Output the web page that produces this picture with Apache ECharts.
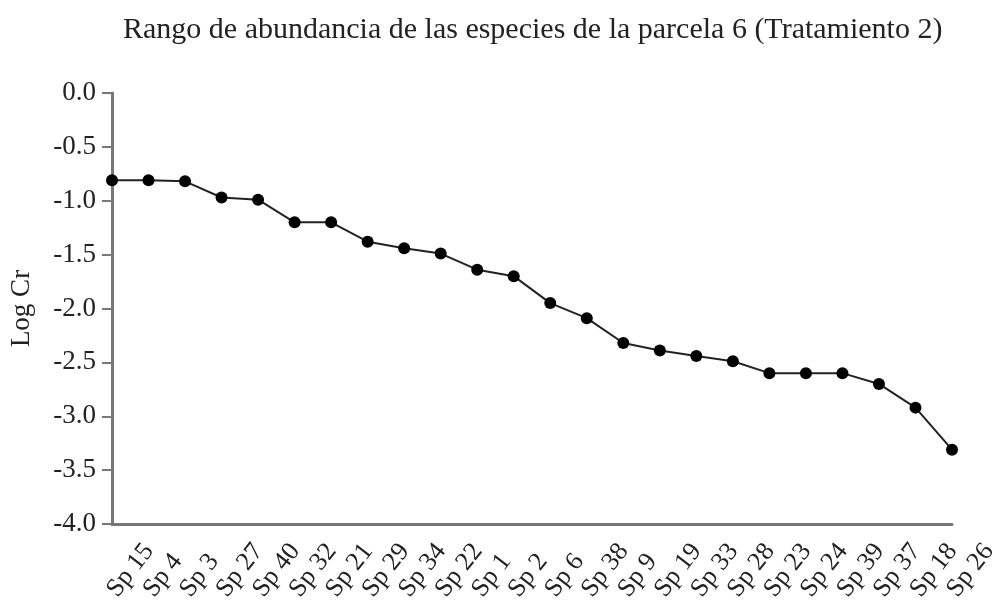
<!DOCTYPE html>
<html>
<head>
<meta charset="utf-8">
<script src="https://cdn.jsdelivr.net/npm/echarts@6/dist/echarts.min.js"></script>
<style>
  html, body { margin: 0; padding: 0; background: #fff; }
  #chart { width: 1003px; height: 606px; }
</style>
</head>
<body>
<div id="chart"></div>
<script>
// especies ordenadas por abundancia
const species = ['Sp 15', 'Sp 4', 'Sp 3', 'Sp 27', 'Sp 40', 'Sp 32', 'Sp 21', 'Sp 29', 'Sp 34', 'Sp 22', 'Sp 1', 'Sp 2',
  'Sp 6', 'Sp 38', 'Sp 9', 'Sp 19', 'Sp 33', 'Sp 28', 'Sp 23', 'Sp 24', 'Sp 39', 'Sp 37', 'Sp 18', 'Sp 26'];
const logCr = [-0.81, -0.81, -0.82, -0.97, -0.99, -1.20, -1.20, -1.38, -1.44, -1.49, -1.64, -1.70,
  -1.95, -2.09, -2.32, -2.39, -2.44, -2.49, -2.60, -2.60, -2.60, -2.70, -2.92, -3.31];
const yMin = -4.0;
const yMax = 0.0;
const yStep = 0.5;

const font = '"Liberation Serif", "Times New Roman", serif';
const axisColor = '#777';
const textColor = '#222';

const myChart = echarts.init(document.getElementById('chart'));

const option = {
  animation: false,
  title: {
    text: 'Rango de abundancia de las especies de la parcela 6 (Tratamiento 2)',
    left: 118,
    top: 10,
    textStyle: { fontFamily: font, fontSize: 30, fontWeight: 'normal', color: textColor }
  },
  grid: { left: 112, right: 51, top: 93, bottom: 82 },
  xAxis: {
    type: 'category',
    data: species,
    boundaryGap: false,
    axisLine: { onZero: false, lineStyle: { color: axisColor, width: 3 } },
    axisTick: { show: false },
    axisLabel: {
      rotate: 52,
      align: 'left',
      verticalAlign: 'middle',
      margin: 70,
      interval: 0,
      fontFamily: font,
      fontSize: 26,
      color: textColor
    }
  },
  yAxis: {
    type: 'value',
    min: yMin,
    max: yMax,
    interval: yStep,
    name: 'Log Cr',
    nameLocation: 'middle',
    nameGap: 77,
    nameTextStyle: { fontFamily: font, fontSize: 27, color: textColor },
    splitLine: { show: false },
    axisLine: { show: true, lineStyle: { color: axisColor, width: 3 } },
    axisTick: { show: true, length: 10, lineStyle: { color: axisColor, width: 2 } },
    axisLabel: {
      margin: 16,
      fontFamily: font,
      fontSize: 27,
      color: textColor,
      formatter: v => v.toFixed(1)
    }
  },
  series: [{
    type: 'line',
    data: logCr,
    symbol: 'circle',
    symbolSize: 12,
    lineStyle: { color: '#222', width: 2 },
    itemStyle: { color: '#000' }
  }]
};

myChart.setOption(option);
</script>
</body>
</html>
